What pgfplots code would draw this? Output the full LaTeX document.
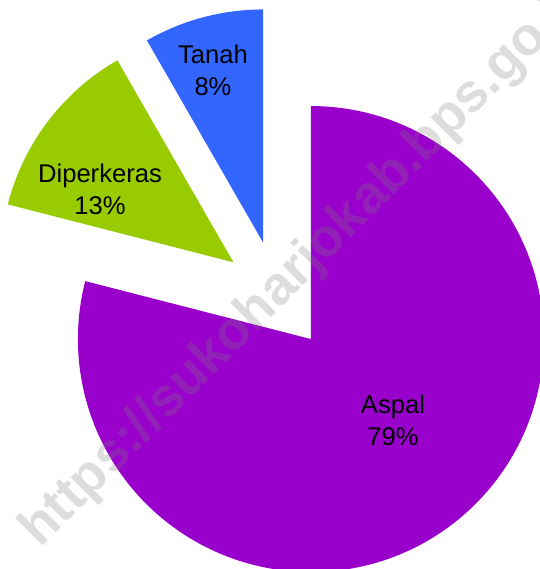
\documentclass[border=0pt]{standalone}
\usepackage{pgfplots}
\pgfplotsset{compat=1.18}
\usepackage{pgfplotstable}
\usepackage{fontspec}
\setmainfont{Liberation Sans}
\usetikzlibrary{calc}

\definecolor{aspal}{RGB}{153,0,204}
\definecolor{diperkeras}{RGB}{153,204,0}
\definecolor{tanah}{RGB}{51,102,255}

\pgfplotstableread[col sep=comma]{
name,value
Aspal,79.0
Diperkeras,12.7
Tanah,8.3
}\piedata

\begin{document}
\begin{tikzpicture}
\pgfplotstablegetelem{0}{value}\of\piedata \let\vA\pgfplotsretval
\pgfplotstablegetelem{1}{value}\of\piedata \let\vB\pgfplotsretval
\pgfplotstablegetelem{2}{value}\of\piedata \let\vC\pgfplotsretval
% angles (clockwise from 12 o'clock)
\pgfmathsetmacro\eA{90}
\pgfmathsetmacro\sA{90-3.6*\vA}
\pgfmathsetmacro\eB{\sA}
\pgfmathsetmacro\sB{\sA-3.6*\vB}
\pgfmathsetmacro\eC{\sB}
\pgfmathsetmacro\sC{\sB-3.6*\vC}
\pgfmathsetmacro\mA{(\sA+\eA)/2}
\pgfmathsetmacro\mB{(\sB+\eB)/2}
\pgfmathsetmacro\mC{(\sC+\eC)/2}
\def\R{116.5pt}
\def\D{27.5pt}
\begin{axis}[
  scale only axis, width=270pt, height=284.5pt,
  xmin=0, xmax=540, ymin=0, ymax=569,
  hide axis, clip=true,
]
\fill[aspal] (axis cs:277.2,273.4) ++(\mA:\D) -- ++(\eA:\R) arc[start angle=\eA, end angle=\sA, radius=\R] -- cycle;
\fill[diperkeras] (axis cs:277.2,273.4) ++(\mB:\D) -- ++(\eB:\R) arc[start angle=\eB, end angle=\sB, radius=\R] -- cycle;
\fill[tanah] (axis cs:277.2,273.4) ++(\mC:\D) -- ++(\eC:\R) arc[start angle=\eC, end angle=\sC, radius=\R] -- cycle;

\node[font=\fontsize{12.8}{16}\selectfont, align=center] at (axis cs:213,499) {Tanah\\8\%};
\node[font=\fontsize{12.8}{16}\selectfont, align=center] at (axis cs:100,380) {Diperkeras\\13\%};
\node[font=\fontsize{12.8}{16}\selectfont, align=center] at (axis cs:393,149) {Aspal\\79\%};

\node[rotate=45, anchor=base west, inner sep=0pt, font=\bfseries\fontsize{26.9}{30}\selectfont, text=black!50, opacity=0.27] at (axis cs:40,20) {https://sukoharjokab.bps.go.id};
\end{axis}
\pgfresetboundingbox
\path[use as bounding box] (current axis.south west) rectangle (current axis.north east);
\end{tikzpicture}
\end{document}
